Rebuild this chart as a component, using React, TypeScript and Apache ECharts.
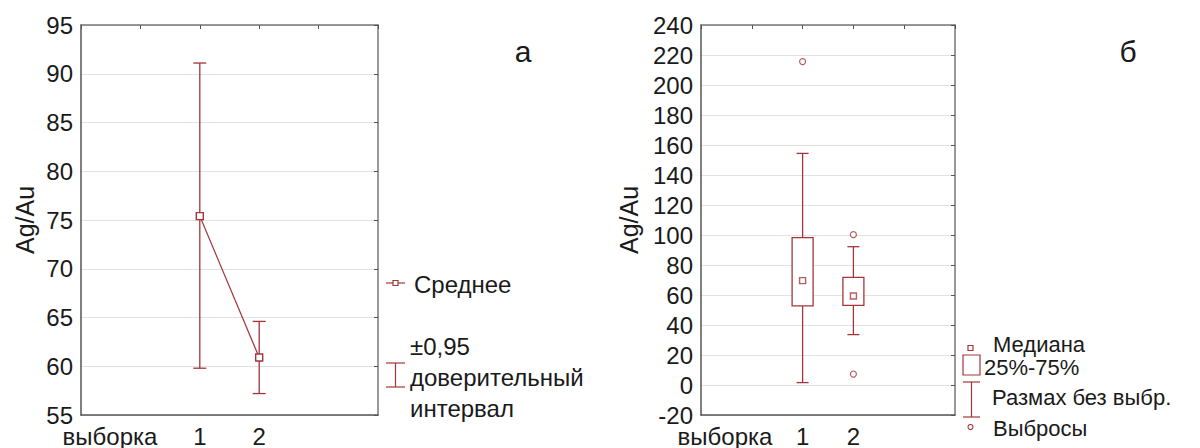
import React, { useEffect, useRef } from "react";
import * as echarts from "echarts";

// Panel "а": means with ±0.95 confidence intervals
const groupLabels = ["1", "2"];
const groupPos = [2, 3];
const means = [75.4, 60.9];
const ciLow = [59.8, 57.2];
const ciHigh = [91.1, 64.6];

// Panel "б": box plot
const medians = [69.6, 59.3];
const q1 = [52.7, 53.1];
const q3 = [98.2, 71.8];
const whiskLow = [1.6, 33.6];
const whiskHigh = [154.4, 92.2];
const outliers: [number, number][] = [
  [2, 215.6],
  [3, 100.2],
  [3, 7.3],
];

const RED = "#a3363a";
const FONT = "Liberation Sans, Arial, sans-serif";
const TXT = "#1a1a1a";
const FS = 24;

export default function App() {
  const ref = useRef<HTMLDivElement>(null);
  useEffect(() => {
    document.body.style.margin = "0";
    const chart = echarts.init(ref.current!, null, { renderer: "svg" });

    const xLabel = (v: number) => {
      const i = groupPos.indexOf(v);
      return i >= 0 ? groupLabels[i] : "";
    };

    const baseX = (gi: number) => ({
      type: "value" as const,
      gridIndex: gi,
      min: 0,
      max: 5,
      interval: 1,
      axisLine: { show: true, onZero: false, lineStyle: { color: "#555", width: 1.5 } },
      axisTick: { show: false },
      splitLine: { show: false },
      axisLabel: {
        formatter: xLabel,
        fontSize: FS,
        color: TXT,
        fontFamily: FONT,
        margin: 11,
        lineHeight: 20,
      },
    });
    const topX = (gi: number) => ({
      type: "value" as const,
      gridIndex: gi,
      position: "top" as const,
      min: 0,
      max: 5,
      interval: 1,
      axisLine: { show: true, onZero: false, lineStyle: { color: "#777", width: 1.5 } },
      axisTick: { show: true, inside: true, length: 4, lineStyle: { color: "#555" } },
      axisLabel: { show: false },
      splitLine: { show: false },
    });
    const baseY = (gi: number, min: number, max: number, interval: number) => ({
      type: "value" as const,
      gridIndex: gi,
      min,
      max,
      interval,
      name: "Ag/Au",
      nameLocation: "middle" as const,
      nameRotate: 90,
      nameGap: gi === 0 ? 44 : 60,
      nameTextStyle: { fontSize: 25, color: TXT, fontFamily: FONT },
      axisLine: { show: true, onZero: false, lineStyle: { color: "#555", width: 1.5 } },
      axisTick: { show: false },
      splitLine: { show: true, lineStyle: { color: "#e2e2e2", width: 1 } },
      axisLabel: { fontSize: FS, color: TXT, fontFamily: FONT, margin: 8, lineHeight: 20 },
    });
    const rightY = (gi: number, min: number, max: number, interval: number) => ({
      type: "value" as const,
      gridIndex: gi,
      position: "right" as const,
      min,
      max,
      interval,
      axisLine: { show: true, onZero: false, lineStyle: { color: "#777", width: 1.5 } },
      axisTick: { show: true, inside: true, length: 4, lineStyle: { color: "#555" } },
      axisLabel: { show: false },
      splitLine: { show: false },
    });

    const errData = groupPos.map((p, i) => [p, ciLow[i], ciHigh[i]]);
    const boxData = groupPos.map((p, i) => [p, whiskLow[i], q1[i], q3[i], whiskHigh[i]]);

    const txt = (text: string, x: number, y: number, extra: any = {}) => ({
      type: "text",
      x,
      y,
      style: { text, fontSize: FS, fill: TXT, fontFamily: FONT, verticalAlign: "middle", lineHeight: 19, ...extra },
    });
    const seg = (x1: number, y1: number, x2: number, y2: number) => ({
      type: "line",
      shape: { x1, y1, x2, y2 },
      style: { stroke: RED, lineWidth: 1.2 },
    });
    const small = { fontSize: 22, lineHeight: 18 };

    const option: any = {
      animation: false,
      backgroundColor: "#fff",
      grid: [
        { left: 81, top: 25, width: 297, height: 390 },
        { left: 701, top: 25, width: 254, height: 390 },
      ],
      xAxis: [baseX(0), topX(0), baseX(1), topX(1)],
      yAxis: [baseY(0, 55, 95, 5), rightY(0, 55, 95, 5), baseY(1, -20, 240, 20), rightY(1, -20, 240, 20)],
      series: [
        {
          type: "custom",
          xAxisIndex: 0,
          yAxisIndex: 0,
          data: errData,
          renderItem: (params: any, api: any) => {
            const x = api.value(0);
            const lo = api.coord([x, api.value(1)]);
            const hi = api.coord([x, api.value(2)]);
            const w = 6.5;
            const st = { stroke: RED, lineWidth: 1.3 };
            return {
              type: "group",
              children: [
                { type: "line", shape: { x1: lo[0], y1: lo[1], x2: hi[0], y2: hi[1] }, style: st },
                { type: "line", shape: { x1: hi[0] - w, y1: hi[1], x2: hi[0] + w, y2: hi[1] }, style: st },
                { type: "line", shape: { x1: lo[0] - w, y1: lo[1], x2: lo[0] + w, y2: lo[1] }, style: st },
              ],
            };
          },
          z: 3,
        },
        {
          type: "line",
          xAxisIndex: 0,
          yAxisIndex: 0,
          data: groupPos.map((p, i) => [p, means[i]]),
          symbol: "rect",
          symbolSize: 7,
          lineStyle: { color: RED, width: 1.2 },
          itemStyle: { color: "#fff", borderColor: RED, borderWidth: 1.4 },
          z: 4,
        },
        {
          type: "custom",
          xAxisIndex: 2,
          yAxisIndex: 2,
          data: boxData,
          renderItem: (params: any, api: any) => {
            const x = api.value(0);
            const wl = api.coord([x, api.value(1)]);
            const b1 = api.coord([x, api.value(2)]);
            const b3 = api.coord([x, api.value(3)]);
            const wh = api.coord([x, api.value(4)]);
            const bw = 10.5;
            const cw = 6;
            const st = { stroke: RED, lineWidth: 1.3 };
            return {
              type: "group",
              children: [
                { type: "line", shape: { x1: wh[0], y1: wh[1], x2: b3[0], y2: b3[1] }, style: st },
                { type: "line", shape: { x1: b1[0], y1: b1[1], x2: wl[0], y2: wl[1] }, style: st },
                { type: "line", shape: { x1: wh[0] - cw, y1: wh[1], x2: wh[0] + cw, y2: wh[1] }, style: st },
                { type: "line", shape: { x1: wl[0] - cw, y1: wl[1], x2: wl[0] + cw, y2: wl[1] }, style: st },
                {
                  type: "rect",
                  shape: { x: b3[0] - bw, y: b3[1], width: 2 * bw, height: b1[1] - b3[1] },
                  style: { fill: "#fff", stroke: RED, lineWidth: 1.3 },
                },
              ],
            };
          },
          z: 3,
        },
        {
          type: "scatter",
          xAxisIndex: 2,
          yAxisIndex: 2,
          data: groupPos.map((p, i) => [p, medians[i]]),
          symbol: "rect",
          symbolSize: 6,
          itemStyle: { color: "#fff", borderColor: RED, borderWidth: 1.4 },
          z: 4,
        },
        {
          type: "scatter",
          xAxisIndex: 2,
          yAxisIndex: 2,
          data: outliers,
          symbol: "circle",
          symbolSize: 6,
          itemStyle: { color: "#fff", borderColor: RED, borderWidth: 1.2 },
          z: 4,
        },
      ],
      graphic: [
        // x-axis titles
        txt("выборка", 110, 436, { align: "center" }),
        txt("выборка", 725, 436, { align: "center" }),
        // panel letters
        txt("а", 523, 51, { align: "center", fontSize: 30, lineHeight: 26 }),
        txt("б", 1128, 51, { align: "center", fontSize: 30, lineHeight: 26 }),
        // legend а
        seg(386, 283, 405, 283),
        { type: "rect", shape: { x: 393, y: 280.5, width: 5, height: 5 }, style: { fill: "#fff", stroke: RED, lineWidth: 1.2 } },
        txt("Среднее", 414, 284),
        txt("±0,95", 410, 346),
        txt("доверительный", 410, 377),
        txt("интервал", 410, 408),
        seg(395.5, 363, 395.5, 387),
        seg(386, 363, 405, 363),
        seg(386, 387, 405, 387),
        // legend б
        { type: "rect", shape: { x: 968, y: 345.5, width: 5, height: 5 }, style: { fill: "#fff", stroke: RED, lineWidth: 1.2 } },
        txt("Медиана", 993, 344, small),
        { type: "rect", shape: { x: 963, y: 355, width: 17, height: 20 }, style: { fill: "#fff", stroke: RED, lineWidth: 1.2 } },
        txt("25%-75%", 984, 367, small),
        seg(971.5, 382, 971.5, 417),
        seg(963, 382, 980, 382),
        seg(963, 417, 980, 417),
        txt("Размах без выбр.", 992, 397, small),
        { type: "circle", shape: { cx: 970.5, cy: 427, r: 2.5 }, style: { fill: "#fff", stroke: RED, lineWidth: 1.1 } },
        txt("Выбросы", 993, 428, small),
      ],
    };
    chart.setOption(option);
    return () => chart.dispose();
  }, []);
  return <div ref={ref} style={{ position: "fixed", left: 0, top: 0, width: 1200, height: 448 }} />;
}
